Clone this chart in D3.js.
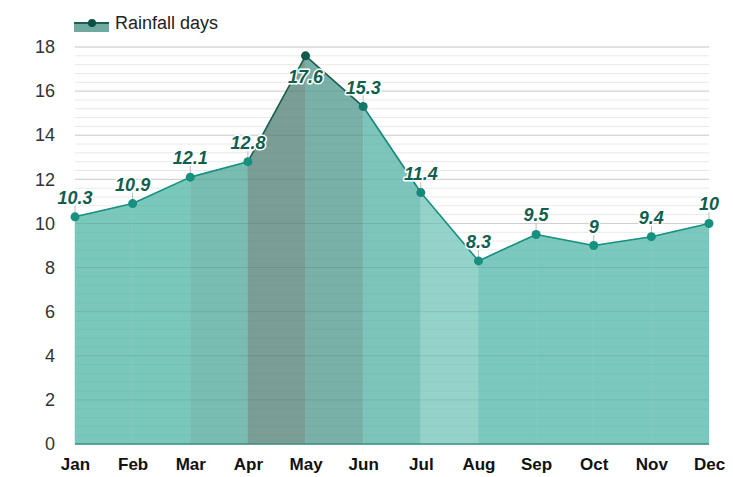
<!DOCTYPE html>
<html>
<head>
<meta charset="utf-8">
<script src="https://cdn.jsdelivr.net/npm/d3@7"></script>
<style>
  body { margin: 0; background: #fff; }
  text { font-family: "Liberation Sans", Arial, sans-serif; }
</style>
</head>
<body>
<div id="container"></div>
<script>
/* DATA */
const months = ["Jan", "Feb", "Mar", "Apr", "May", "Jun", "Jul", "Aug", "Sep", "Oct", "Nov", "Dec"];
const rainDays = [10.3, 10.9, 12.1, 12.8, 17.6, 15.3, 11.4, 8.3, 9.5, 9, 9.4, 10];
const yTicks = [0, 2, 4, 6, 8, 10, 12, 14, 16, 18];
// fill / line colour of each month-to-month segment
const segFill = ["#7ac7bc", "#7ac7bc", "#79bcb2", "#7a9e95", "#79b0a7", "#7dc5ba", "#94d3ca", "#7bc9be", "#7bc9be", "#7bc9be", "#7bc9be"];
const segLine = ["#16907f", "#16907f", "#16907f", "#1b5f52", "#1b5f52", "#15887a", "#16907f", "#16907f", "#16907f", "#16907f", "#16907f"];
const pointColor = ["#16907f", "#16907f", "#16907f", "#16907f", "#0f5a4c", "#15776a", "#15887a", "#16907f", "#16907f", "#16907f", "#16907f", "#16907f"];

const width = 733, height = 477;
const margin = { top: 47, bottom: 33, left: 75, right: 24 };

const svg = d3.select("#container").append("svg")
  .attr("width", width)
  .attr("height", height);

const xScale = d3.scalePoint()
  .domain(months)
  .range([margin.left, width - margin.right]);

const yScale = d3.scaleLinear()
  .domain([0, 18])
  .range([height - margin.bottom, margin.top]);

const data = months.map((m, i) => ({ month: m, value: rainDays[i], i }));

// gridlines (minor + major)
const minor = d3.range(0, 18.01, 0.4);
svg.append("g").selectAll("line")
  .data(minor)
  .join("line")
  .attr("x1", margin.left).attr("x2", width - margin.right)
  .attr("y1", d => yScale(d)).attr("y2", d => yScale(d))
  .attr("stroke", "#f0f0f0").attr("stroke-width", 1);
svg.append("g").selectAll("line")
  .data(yTicks)
  .join("line")
  .attr("x1", margin.left).attr("x2", width - margin.right)
  .attr("y1", d => yScale(d)).attr("y2", d => yScale(d))
  .attr("stroke", "#e2e2e2").attr("stroke-width", 1);

// area segments
const areaGen = d3.area()
  .x(d => xScale(d.month))
  .y0(yScale(0))
  .y1(d => yScale(d.value));

const segs = d3.range(months.length - 1).map(i => [data[i], data[i + 1]]);

svg.append("g").selectAll("path")
  .data(segs)
  .join("path")
  .attr("d", d => areaGen(d))
  .attr("fill", (d, i) => segFill[i])
  .attr("stroke", (d, i) => segFill[i])
  .attr("stroke-width", 0.5);

// faint gridlines over the area
svg.append("g").selectAll("line")
  .data(minor.filter(d => d > 0))
  .join("line")
  .attr("x1", margin.left).attr("x2", width - margin.right)
  .attr("y1", d => yScale(d)).attr("y2", d => yScale(d))
  .attr("stroke", "#000").attr("stroke-opacity", 0.03);
svg.append("g").selectAll("line")
  .data(yTicks.filter(d => d > 0))
  .join("line")
  .attr("x1", margin.left).attr("x2", width - margin.right)
  .attr("y1", d => yScale(d)).attr("y2", d => yScale(d))
  .attr("stroke", "#000").attr("stroke-opacity", 0.06);

// baseline
svg.append("line")
  .attr("x1", margin.left).attr("x2", width - margin.right)
  .attr("y1", yScale(0)).attr("y2", yScale(0))
  .attr("stroke", "#3f8f84").attr("stroke-width", 1.5);

// line segments
const lineGen = d3.line()
  .x(d => xScale(d.month))
  .y(d => yScale(d.value));

svg.append("g").selectAll("path")
  .data(segs)
  .join("path")
  .attr("d", d => lineGen(d))
  .attr("fill", "none")
  .attr("stroke", (d, i) => segLine[i])
  .attr("stroke-width", 1.6);

// label leader ticks
svg.append("g").selectAll("line")
  .data(data.filter(d => d.month !== "May"))
  .join("line")
  .attr("x1", d => xScale(d.month)).attr("x2", d => xScale(d.month))
  .attr("y1", d => yScale(d.value) - 4).attr("y2", d => yScale(d.value) - 11)
  .attr("stroke", "#bbbbbb").attr("stroke-width", 1);

// points
svg.append("g").selectAll("circle")
  .data(data)
  .join("circle")
  .attr("cx", d => xScale(d.month))
  .attr("cy", d => yScale(d.value))
  .attr("r", 4.5)
  .attr("fill", d => pointColor[d.i]);

// value labels
svg.append("g").selectAll("text")
  .data(data)
  .join("text")
  .attr("x", d => xScale(d.month))
  .attr("y", d => d.month === "May" ? yScale(d.value) + 27 : yScale(d.value) - 13)
  .attr("text-anchor", "middle")
  .attr("font-size", 18)
  .attr("font-weight", "bold")
  .attr("font-style", "italic")
  .attr("fill", "#0f5e4f")
  .attr("stroke", "#fff")
  .attr("stroke-width", 3)
  .attr("stroke-linejoin", "round")
  .attr("paint-order", "stroke")
  .text(d => d.value);

// axes
const yAxis = d3.axisLeft(yScale).tickValues(yTicks).tickSize(0).tickPadding(20);
svg.append("g")
  .attr("transform", `translate(${margin.left}, 0)`)
  .call(yAxis)
  .call(g => g.select(".domain").remove())
  .selectAll("text")
  .attr("font-size", 18)
  .attr("fill", "#333")
  .attr("font-family", "Liberation Sans, Arial, sans-serif");

const xAxis = d3.axisBottom(xScale).tickSize(0).tickPadding(14);
svg.append("g")
  .attr("transform", `translate(0, ${yScale(0)})`)
  .call(xAxis)
  .call(g => g.select(".domain").remove())
  .selectAll("text")
  .attr("font-size", 17)
  .attr("font-weight", "bold")
  .attr("fill", "#111")
  .attr("font-family", "Liberation Sans, Arial, sans-serif");

// legend
const legend = svg.append("g").attr("transform", "translate(74, 23)");
legend.append("rect")
  .attr("x", 0).attr("y", 0).attr("width", 35).attr("height", 9)
  .attr("fill", "#6fa99f");
legend.append("line")
  .attr("x1", 0).attr("x2", 35).attr("y1", 0).attr("y2", 0)
  .attr("stroke", "#1b5f52").attr("stroke-width", 2);
legend.append("circle")
  .attr("cx", 18).attr("cy", 0).attr("r", 4)
  .attr("fill", "#0f4f43");
legend.append("text")
  .attr("x", 41).attr("y", 6)
  .attr("font-size", 18)
  .attr("fill", "#222")
  .text("Rainfall days");
</script>
</body>
</html>
